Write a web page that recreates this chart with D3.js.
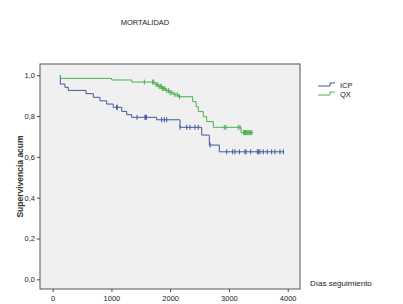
<!DOCTYPE html>
<html>
<head>
<meta charset="utf-8">
<script src="https://cdn.jsdelivr.net/npm/d3@7"></script>
<style>
  body { margin: 0; background: #fff; }
  text { font-family: Arial, "Liberation Sans", sans-serif; }
</style>
</head>
<body>
<div id="chart"></div>
<script>
// Datos de la curva de Kaplan-Meier
var icpTimes = [130, 130, 209, 266, 567, 692, 805, 919, 1031, 1174, 1260, 1345, 1770, 2167, 2536, 2666, 2836, 3937];
var icpSurv  = [1.0, 0.957, 0.941, 0.926, 0.910, 0.892, 0.875, 0.859, 0.843, 0.823, 0.807, 0.794, 0.782, 0.745, 0.707, 0.658, 0.625, 0.625];
var icpCensor = [1089, 1100, 1435, 1570, 1583, 1595, 1855, 1900, 1940, 2167, 2280, 2337, 2422, 2479, 2680,
                 2962, 3064, 3103, 3177, 3273, 3290, 3370, 3482, 3506, 3528, 3584, 3652, 3727, 3783, 3868, 3925];

var qxTimes = [130, 130, 1004, 1345, 1741, 1800, 1860, 1920, 1990, 2060, 2140, 2383, 2440, 2480, 2564, 2620, 2734, 3207, 3414];
var qxSurv  = [1.0, 0.985, 0.977, 0.967, 0.955, 0.945, 0.935, 0.925, 0.915, 0.905, 0.895, 0.871, 0.846, 0.822, 0.797, 0.773, 0.745, 0.719, 0.719];
var qxCensor = [1560, 1700, 1720, 1760, 1780, 1810, 1830, 1850, 1870, 1890, 1910, 1940, 1970, 2000, 2030, 2080, 2120, 2160,
                2921, 2950, 3159, 3188, 3250, 3265, 3280, 3295, 3310, 3325, 3340, 3355, 3370, 3390];

var xTicks = [0, 1000, 2000, 3000, 4000];
var yTicks = [0, 0.2, 0.4, 0.6, 0.8, 1.0];
var grupos = ["ICP", "QX"];
var colores = ["#46559c", "#4cb050"];

var W = 403, H = 304;
var frame = {left: 40, top: 64, right: 300, bottom: 289};

var svg = d3.select("#chart").append("svg")
  .attr("width", W)
  .attr("height", H);

// Escalas
var x = d3.scaleLinear().domain([0, 4000]).range([52.7, 287.7]);
var y = d3.scaleLinear().domain([0, 1]).range([279.3, 75.3]);

// Fondo del área del gráfico
svg.append("rect")
  .attr("x", frame.left)
  .attr("y", frame.top)
  .attr("width", frame.right - frame.left)
  .attr("height", frame.bottom - frame.top)
  .attr("fill", "#f0f0f0")
  .attr("stroke", "#555")
  .attr("stroke-width", 1);

// Eje X
var fmt = function(d) { return d3.format(".1f")(d).replace(".", ","); };
svg.append("g")
  .attr("transform", "translate(0," + frame.bottom + ")")
  .call(d3.axisBottom(x).tickValues(xTicks).tickSize(3).tickSizeOuter(0).tickFormat(d3.format("d")))
  .call(function(g) {
    g.select(".domain").remove();
    g.selectAll("line").attr("stroke", "#444");
    g.selectAll("text").attr("font-size", 7.5).attr("fill", "#222").attr("dy", "0.85em");
  });

// Eje Y
svg.append("g")
  .attr("transform", "translate(" + frame.left + ",0)")
  .call(d3.axisLeft(y).tickValues(yTicks).tickSize(3).tickSizeOuter(0).tickFormat(fmt))
  .call(function(g) {
    g.select(".domain").remove();
    g.selectAll("line").attr("stroke", "#444");
    g.selectAll("text").attr("font-size", 7.5).attr("fill", "#222").attr("x", -5);
  });

// Curvas escalonadas
function survAt(times, surv, t) {
  var s = surv[0];
  for (var i = 0; i < times.length; i++) { if (times[i] <= t) s = surv[i]; }
  return s;
}

var series = [
  {times: icpTimes, surv: icpSurv, cens: icpCensor},
  {times: qxTimes, surv: qxSurv, cens: qxCensor}
];

var line = d3.line()
  .x(function(d) { return x(d[0]); })
  .y(function(d) { return y(d[1]); })
  .curve(d3.curveStepAfter);

series.forEach(function(s, i) {
  var pts = s.times.map(function(t, j) { return [t, s.surv[j]]; });
  svg.append("path")
    .datum(pts)
    .attr("fill", "none")
    .attr("stroke", colores[i])
    .attr("stroke-width", 1)
    .attr("d", line);

  // Marcas de censura
  svg.selectAll(".c" + i)
    .data(s.cens)
    .enter().append("line")
    .attr("x1", function(d) { return x(d); })
    .attr("x2", function(d) { return x(d); })
    .attr("y1", function(d) { return y(survAt(s.times, s.surv, d)) - 2.5; })
    .attr("y2", function(d) { return y(survAt(s.times, s.surv, d)) + 2.5; })
    .attr("stroke", colores[i])
    .attr("stroke-width", 1);
});

// Título
svg.append("text")
  .attr("x", 145)
  .attr("y", 25)
  .attr("text-anchor", "middle")
  .attr("font-size", 7.5)
  .attr("fill", "#222")
  .text("MORTALIDAD");

// Etiqueta eje Y
svg.append("text")
  .attr("transform", "translate(23," + ((frame.top + frame.bottom) / 2) + ") rotate(-90)")
  .attr("text-anchor", "middle")
  .attr("font-size", 8.5)
  .attr("font-weight", "bold")
  .attr("fill", "#333")
  .text("Supervivencia acum");

// Etiqueta eje X
svg.append("text")
  .attr("x", 310)
  .attr("y", 286)
  .attr("font-size", 8)
  .attr("fill", "#222")
  .text("Días seguimiento");

// Leyenda
var legend = svg.append("g").attr("transform", "translate(318,86)");
grupos.forEach(function(g, i) {
  var yy = i * 9;
  legend.append("path")
    .attr("d", "M0," + yy + "H12V" + (yy - 3) + "H17")
    .attr("fill", "none")
    .attr("stroke", colores[i])
    .attr("stroke-width", 1);
  legend.append("text")
    .attr("x", 22)
    .attr("y", yy + 2)
    .attr("font-size", 7.5)
    .attr("fill", "#222")
    .text(g);
});
</script>
</body>
</html>
